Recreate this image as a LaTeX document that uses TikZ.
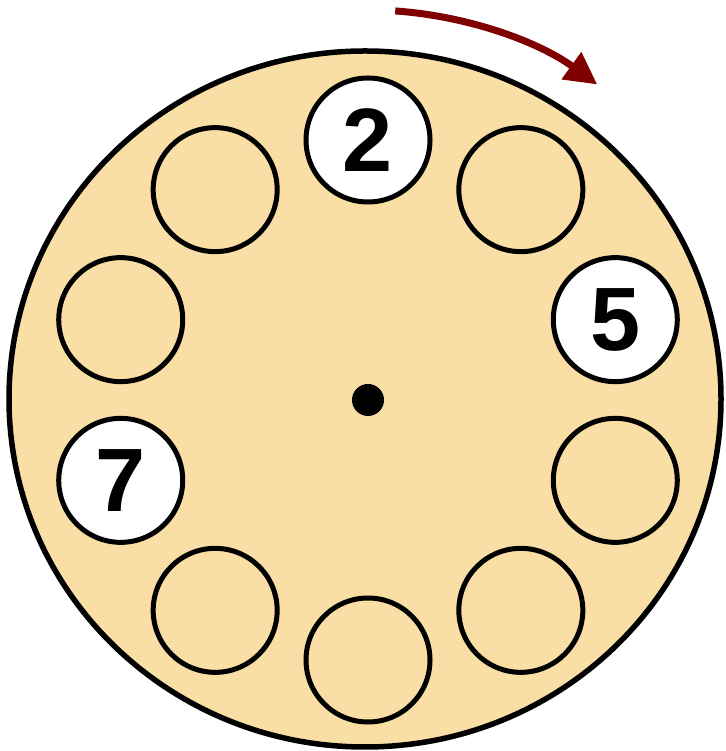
\documentclass[tikz,border=0pt]{standalone}
\usepackage{fontspec}
\setmainfont{Liberation Sans}
\usetikzlibrary{arrows.meta}
\definecolor{wheatfill}{RGB}{249,223,165}
\definecolor{arrowred}{RGB}{128,0,0}
\begin{document}
\begin{tikzpicture}[x=1pt,y=1pt,
  slot/.style={circle,draw=black,line width=5pt,minimum size=124pt,inner sep=0pt,fill=wheatfill},
  numslot/.style={slot,fill=white,font=\fontsize{90}{90}\selectfont\bfseries},
  disc/.style={draw=black,line width=5.5pt,fill=wheatfill},
  turn/.style={draw=arrowred,line width=7pt,-{Triangle[length=32pt,width=32pt]}}]
\useasboundingbox (0,0) rectangle (725,751);
\draw[disc] (365,352) ellipse [x radius=356, y radius=348];
\coordinate (c) at (368,351);
\node[circle,fill=black,minimum size=32pt,inner sep=0pt] (hub) at (c) {};
\node[numslot] (s1) at ([shift={(90:260)}]c) {2};
\node[slot] (s2) at ([shift={(54:260)}]c) {};
\node[numslot] (s3) at ([shift={(18:260)}]c) {5};
\node[slot] (s4) at ([shift={(-18:260)}]c) {};
\node[slot] (s5) at ([shift={(-54:260)}]c) {};
\node[slot] (s6) at ([shift={(-90:260)}]c) {};
\node[slot] (s7) at ([shift={(-126:260)}]c) {};
\node[numslot] (s8) at ([shift={(-162:260)}]c) {7};
\node[slot] (s9) at ([shift={(162:260)}]c) {};
\node[slot] (s10) at ([shift={(126:260)}]c) {};
\coordinate (arcstart) at ([shift={(86:390)}]c);
\draw[turn] (arcstart) arc[start angle=86, end angle=54, radius=390];
\end{tikzpicture}
\end{document}
